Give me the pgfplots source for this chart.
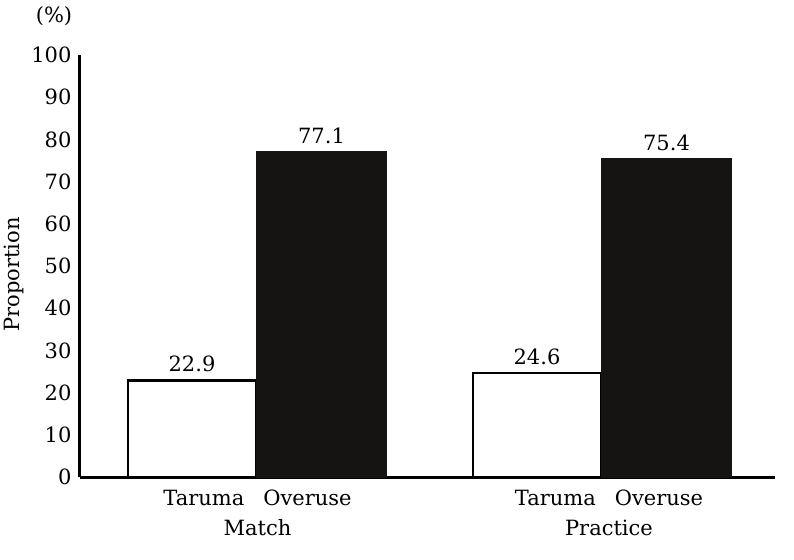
\documentclass[border=0pt]{standalone}
\usepackage{pgfplots}
\pgfplotsset{compat=1.18}
\usepackage{fontspec}
\setmainfont{DejaVu Serif}
\definecolor{barblack}{RGB}{22,20,18}
\newcommand{\lblfont}{\fontsize{21}{30}\selectfont}

\begin{document}
\begin{tikzpicture}[x=1pt,y=1pt]
\useasboundingbox (-80,-82) rectangle (714,477);
\begin{axis}[
  at={(0,0)}, anchor=south west,
  scale only axis, width=695pt, height=422pt,
  xmin=80, xmax=775, ymin=0, ymax=100,
  axis x line*=bottom, axis y line*=left,
  axis line style={line width=3pt, -},
  ytick distance=10, major tick length=0pt,
  xtick={257.5,609},
  xticklabels={{Taruma\hspace{19pt}Overuse\\Match},{Taruma\hspace{19pt}Overuse\\Practice}},
  xticklabel style={align=center, font=\lblfont, yshift=-9pt},
  yticklabel style={font=\lblfont, xshift=-5pt},
  /pgf/number format/assume math mode=true,
  ylabel={Proportion},
  ylabel style={font=\lblfont, at={(axis description cs:-0.095,0.48)}, anchor=center},
  bar shift=0pt,
  nodes near coords,
  every node near coord/.append style={font=\lblfont, text=black, yshift=4pt},
  clip=false,
]
\addplot[ybar, bar width=128, fill=white, draw=black, line width=2.6pt] coordinates {(192,22.9) (537,24.6)};
\addplot[ybar, bar width=130, fill=barblack, draw=barblack, line width=1pt] coordinates {(321.5,77.1) (666.5,75.4)};
\node[font=\lblfont] at (axis description cs:0,1) [xshift=-26pt, yshift=39pt] {(\%)};
\end{axis}
\end{tikzpicture}
\end{document}
